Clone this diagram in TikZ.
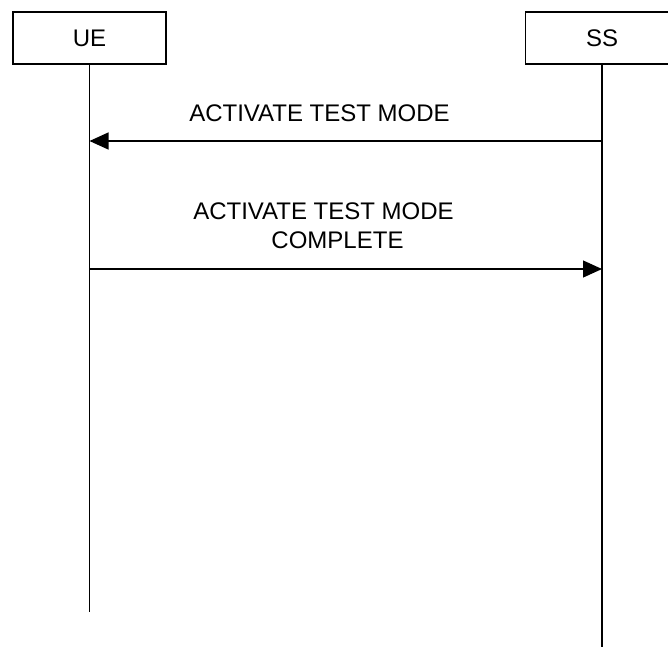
\documentclass[tikz,border=0pt]{standalone}
\usepackage{fontspec}
\setmainfont{Liberation Sans}
\usetikzlibrary{arrows.meta}

\begin{document}
\begin{tikzpicture}[x=1pt, y=-1pt,
  entity/.style={draw, line width=1.2pt, minimum width=153pt, minimum height=52pt, inner sep=0pt, font=\fontsize{24}{29}\selectfont},
  lifeline/.style={line width=1.2pt},
  msg/.style={line width=1.2pt, -{Triangle[length=19pt, width=17pt]}},
  lbl/.style={inner sep=0pt, align=center, font=\fontsize{24}{29}\selectfont}]
\useasboundingbox (0,0) rectangle (668,646);
\clip (0,0) rectangle (668,646);

\node[entity] (ue) at (89.5,38) {UE};
\node[entity] (ss) at (602,38) {SS};

\coordinate (ueend) at (89.5,612);
\coordinate (ssend) at (602,650);
\draw[lifeline] (ue) -- (ueend);
\draw[lifeline] (ss) -- (ssend);

\coordinate (ssa) at (602,141);
\coordinate (uea) at (89.5,141);
\coordinate (ueb) at (89.5,269);
\coordinate (ssb) at (602,269);

\draw[msg] (ssa) -- (uea);
\draw[msg] (ueb) -- (ssb);

\node[lbl, anchor=base] (m1) at (319.5,121) {ACTIVATE TEST MODE};
\node[lbl] (m2) at (323.5,225.5) {ACTIVATE TEST MODE\\\hspace*{28pt}COMPLETE};
\end{tikzpicture}
\end{document}
